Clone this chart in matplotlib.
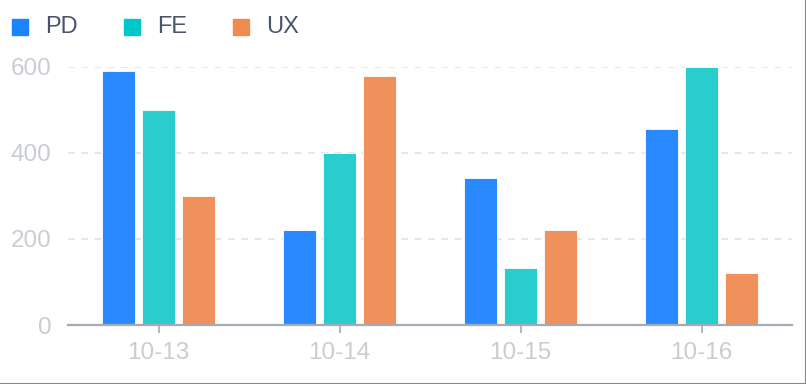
import numpy as np
import matplotlib.pyplot as plt
from matplotlib.patches import Rectangle
from matplotlib.lines import Line2D

plt.rcParams['font.family'] = ['Liberation Sans', 'DejaVu Sans']

dates = ['10-13', '10-14', '10-15', '10-16']
pd_vals = [590, 220, 343, 455]
fe_vals = [500, 400, 132, 600]
ux_vals = [300, 580, 222, 120]

names = ['PD', 'FE', 'UX']
colors = ['#2a89ff', '#29cdcd', '#f0905a']
legend_colors = ['#1a84ff', '#00c8c8', '#f08a50']

fig = plt.figure(figsize=(8.06, 3.84), dpi=100)
ax = fig.add_axes([68 / 806, 1 - 325 / 384, 724 / 806, 258 / 384])

x = np.arange(len(dates))
width = 0.183
offset = 0.221
for i, vals in enumerate([pd_vals, fe_vals, ux_vals]):
    ax.bar(x + (i - 1) * offset, vals, width, color=colors[i],
           edgecolor='white', linewidth=0.6, zorder=3, clip_on=False)

ax.set_xlim(-0.5, len(dates) - 0.5)
ax.set_ylim(0, 600)
ax.set_yticks([0, 200, 400, 600])
ax.set_xticks(x)
ax.set_xticklabels(dates)

for s in ['top', 'right', 'left']:
    ax.spines[s].set_visible(False)
ax.spines['bottom'].set_color('#a3abb7')
ax.spines['bottom'].set_linewidth(1.6)
ax.spines['bottom'].set_zorder(4)

ax.yaxis.grid(True, color='#e3e3e3', linestyle=(0, (4, 4)), linewidth=1.2)
ax.set_axisbelow(True)
ax.tick_params(axis='y', length=0, pad=12, labelsize=17.5, labelcolor='#c9cdd3')
ax.tick_params(axis='x', length=6, width=1.2, color='#a3abb7', direction='out',
               pad=6, labelsize=17.5, labelcolor='#c9cdd3')

# legend
lx = [12, 124, 233]
for i, n in enumerate(names):
    fig.patches.append(Rectangle((lx[i] / 806, 1 - 35 / 384), 16 / 806, 16 / 384,
                                 transform=fig.transFigure, color=legend_colors[i]))
    fig.text((lx[i] + 33) / 806, 1 - 27 / 384, n, fontsize=17, color='#4a5469',
             va='center', ha='left')

# screenshot border
fig.add_artist(Line2D([805.5 / 806, 805.5 / 806], [0, 1], color='#888888', lw=1.5))
fig.add_artist(Line2D([0, 1], [0.5 / 384, 0.5 / 384], color='#888888', lw=1.5))

fig.savefig('out.png', dpi=100)
